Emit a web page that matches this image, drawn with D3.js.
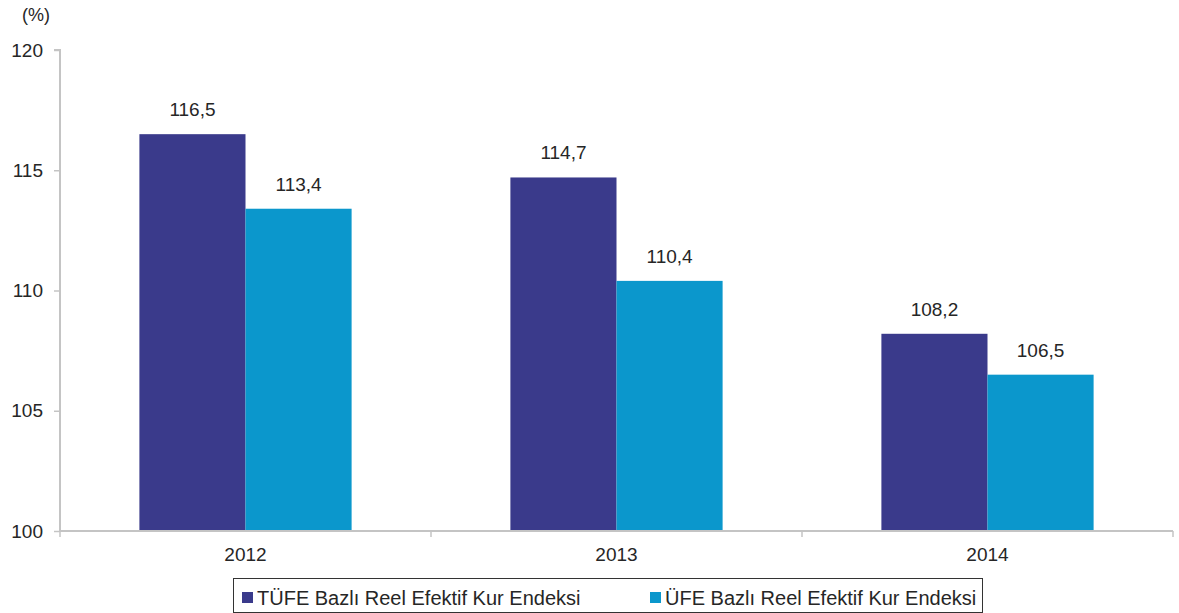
<!DOCTYPE html>
<html><head><meta charset="utf-8">
<script src="https://cdn.jsdelivr.net/npm/d3@7"></script>
<style>body{margin:0;background:#fff;}svg{display:block;font-family:"Liberation Sans",Arial,sans-serif;}</style>
</head><body>
<svg id="c" width="1179" height="613"></svg>
<script>
const categories = ["2012", "2013", "2014"];
const seriesNames = ["TÜFE Bazlı Reel Efektif Kur Endeksi", "ÜFE Bazlı Reel Efektif Kur Endeksi"];
const tufeValues = [116.5, 114.7, 108.2];
const ufeValues = [113.4, 110.4, 106.5];
const yTicks = [100, 105, 110, 115, 120];
const colors = ["#3a3a8b", "#0b97cc"];

(function () {
const svg = d3.select("#c");
const FS = 19;
const txt = "#262626";
const mLeft = 60, mRight = 1173, mTop = 50, mBottom = 531;
const x0 = d3.scaleBand().domain(categories).range([mLeft, mRight]).padding(0);
const bw = x0.bandwidth();
const x1 = d3.scaleBand().domain(seriesNames).range([bw * 0.214, bw * 0.786]).padding(0);
const y = d3.scaleLinear().domain([100, 120]).range([mBottom, mTop]);
const fmt = v => v.toFixed(1).replace(".", ",");

// y axis
const ya = svg.append("g").attr("transform", `translate(${mLeft},0)`)
  .call(d3.axisLeft(y).tickValues(yTicks).tickSize(6).tickPadding(11).tickFormat(d => d));
ya.select(".domain").attr("stroke", "#c4c4c4").attr("stroke-width", 2).attr("d", `M-6,${mTop}H0V${mBottom}`);
ya.selectAll(".tick line").attr("stroke", "#c4c4c4").attr("stroke-width", 1.5);
ya.selectAll(".tick text").attr("font-size", FS).attr("fill", txt).attr("font-family", "Liberation Sans, Arial, sans-serif");

// bars
const data = categories.map((c, i) => ({c, vals: [tufeValues[i], ufeValues[i]]}));
const g = svg.selectAll("g.grp").data(data).join("g").attr("class", "grp")
  .attr("transform", d => `translate(${x0(d.c)},0)`);
g.selectAll("rect").data(d => d.vals.map((v, j) => ({v, s: seriesNames[j], j})))
  .join("rect")
  .attr("x", d => x1(d.s)).attr("width", x1.bandwidth())
  .attr("y", d => y(d.v)).attr("height", d => y(100) - y(d.v))
  .attr("fill", d => colors[d.j]);
g.selectAll("text.val").data(d => d.vals.map((v, j) => ({v, s: seriesNames[j], j})))
  .join("text").attr("class", "val")
  .attr("x", d => x1(d.s) + x1.bandwidth() / 2).attr("y", d => y(d.v) - 18)
  .attr("text-anchor", "middle").attr("font-size", FS).attr("fill", txt)
  .text(d => fmt(d.v));

// x axis
const xa = svg.append("g").attr("transform", `translate(0,${mBottom})`)
  .call(d3.axisBottom(x0).tickSize(0).tickPadding(17));
xa.select(".domain").attr("stroke", "#c4c4c4").attr("stroke-width", 2).attr("d", `M${mLeft},0H${mRight}`);
xa.selectAll(".tick text").attr("font-size", FS).attr("fill", txt).attr("font-family", "Liberation Sans, Arial, sans-serif");
const bounds = categories.map(c => x0(c) + bw).concat([mLeft]);
svg.append("g").selectAll("line").data(bounds).join("line")
  .attr("x1", d => d).attr("x2", d => d).attr("y1", mBottom).attr("y2", mBottom + 6)
  .attr("stroke", "#c4c4c4").attr("stroke-width", 1.5);

// unit label
svg.append("text").attr("x", 22).attr("y", 21).attr("font-size", 18).attr("fill", txt).text("(%)");

// legend
svg.append("rect").attr("x", 233.5).attr("y", 578.5).attr("width", 749).attr("height", 34)
  .attr("fill", "#fff").attr("stroke", "#333").attr("stroke-width", 1);
const legX = [242, 650];
seriesNames.forEach((s, i) => {
  svg.append("rect").attr("x", legX[i]).attr("y", 592).attr("width", 11).attr("height", 11).attr("fill", colors[i]);
  svg.append("text").attr("x", legX[i] + 15).attr("y", 605).attr("font-size", 20).attr("fill", txt).text(s);
});
})();
</script>
</body></html>
